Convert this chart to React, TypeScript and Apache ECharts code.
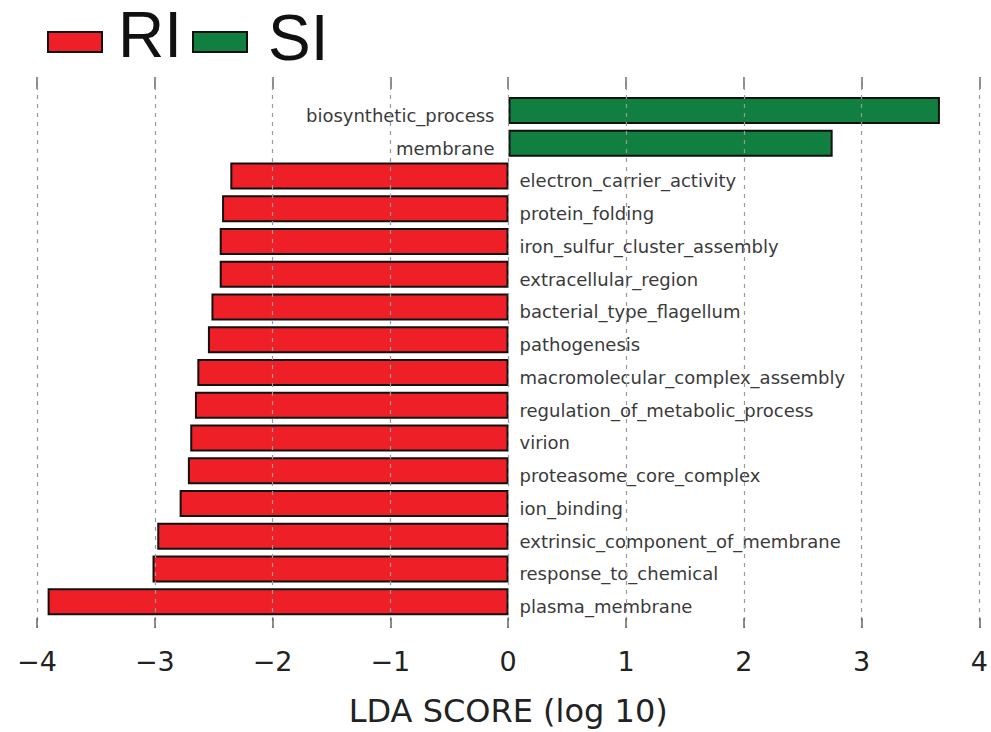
import React, { useEffect, useRef } from "react";
import * as echarts from "echarts";

const categories = [
  "biosynthetic_process",
  "membrane",
  "electron_carrier_activity",
  "protein_folding",
  "iron_sulfur_cluster_assembly",
  "extracellular_region",
  "bacterial_type_flagellum",
  "pathogenesis",
  "macromolecular_complex_assembly",
  "regulation_of_metabolic_process",
  "virion",
  "proteasome_core_complex",
  "ion_binding",
  "extrinsic_component_of_membrane",
  "response_to_chemical",
  "plasma_membrane",
];
const ldaScores = [
  3.66, 2.75, -2.36, -2.43, -2.45, -2.45, -2.52, -2.55, -2.64, -2.66, -2.7,
  -2.72, -2.79, -2.98, -3.02, -3.91,
];
const groupNames = ["RI", "SI"];
const groupColors = ["#ee1f26", "#117f3f"];
const xTicks = [-4, -3, -2, -1, 0, 1, 2, 3, 4];

export default function App() {
  const ref = useRef<HTMLDivElement>(null);
  useEffect(() => {
    if (!ref.current) return;
    const chart = echarts.init(ref.current, null, { renderer: "svg" });
    const left = 37;
    const width = 943;
    const fmt = (v: number) => (v < 0 ? "\u2212" + Math.abs(v) : String(v));
    const data = ldaScores.map((v) => ({
      value: v,
      itemStyle: { color: v > 0 ? groupColors[1] : groupColors[0] },
      label: {
        position: v > 0 ? "left" : "right",
        distance: v > 0 ? 14 : 11,
      },
    }));
    chart.setOption({
      animation: false,
      grid: [
        { left, width, top: 77, height: 556 },
        { left, width, top: 94, height: 524 },
      ],
      xAxis: [
        {
          gridIndex: 0,
          type: "value",
          min: xTicks[0],
          max: xTicks[xTicks.length - 1],
          interval: 1,
          position: "bottom",
          z: 10,
          axisLine: { show: false },
          axisTick: {
            show: true,
            inside: true,
            length: 10,
            lineStyle: { color: "#666", width: 1.5 },
          },
          splitLine: {
            show: true,
            lineStyle: { color: "#999", type: [4, 5], width: 1.2 },
          },
          axisLabel: {
            formatter: fmt,
            fontFamily: "DejaVu Sans",
            fontSize: 27,
            color: "#222",
            margin: 20,
          },
          name: "LDA SCORE (log 10)",
          nameLocation: "middle",
          nameGap: 67,
          nameTextStyle: {
            fontFamily: "DejaVu Sans",
            fontSize: 32,
            color: "#222",
          },
        },
        {
          gridIndex: 0,
          type: "value",
          min: xTicks[0],
          max: xTicks[xTicks.length - 1],
          interval: 1,
          position: "top",
          axisLine: { show: false },
          axisTick: {
            show: true,
            inside: true,
            length: 12,
            lineStyle: { color: "#666", width: 1.5 },
          },
          splitLine: { show: false },
          axisLabel: { show: false },
        },
        {
          gridIndex: 1,
          type: "value",
          min: xTicks[0],
          max: xTicks[xTicks.length - 1],
          interval: 1,
          show: false,
        },
      ],
      yAxis: [
        {
          gridIndex: 0,
          type: "value",
          show: false,
          min: 0,
          max: 1,
        },
        {
          gridIndex: 1,
          type: "category",
          data: categories,
          inverse: true,
          show: false,
        },
      ],
      series: [
        {
          type: "bar",
          xAxisIndex: 2,
          yAxisIndex: 1,
          barWidth: 27,
          data,
          itemStyle: { borderColor: "#111", borderWidth: 2 },
          label: {
            show: true,
            formatter: (p: any) => categories[p.dataIndex],
            fontFamily: "DejaVu Sans",
            fontSize: 18,
            color: "#3a3a3a",
            offset: [0, 5],
          },
        },
      ],
      graphic: [
        {
          type: "rect",
          shape: { x: 48, y: 32, width: 54, height: 20 },
          style: { fill: groupColors[0], stroke: "#111", lineWidth: 2 },
        },
        {
          type: "text",
          x: 118,
          y: 35,
          style: {
            text: groupNames[0],
            font: "64px 'Liberation Sans'",
            fill: "#111",
            textVerticalAlign: "middle",
          },
        },
        {
          type: "rect",
          shape: { x: 193, y: 32, width: 54, height: 20 },
          style: { fill: groupColors[1], stroke: "#111", lineWidth: 2 },
        },
        {
          type: "text",
          x: 268,
          y: 38,
          style: {
            text: groupNames[1],
            font: "64px 'Liberation Sans'",
            fill: "#111",
            textVerticalAlign: "middle",
          },
        },
      ],
    });
    return () => chart.dispose();
  }, []);
  return (
    <div
      ref={ref}
      style={{ position: "fixed", left: 0, top: 0, width: 991, height: 732, background: "#fff" }}
    />
  );
}
